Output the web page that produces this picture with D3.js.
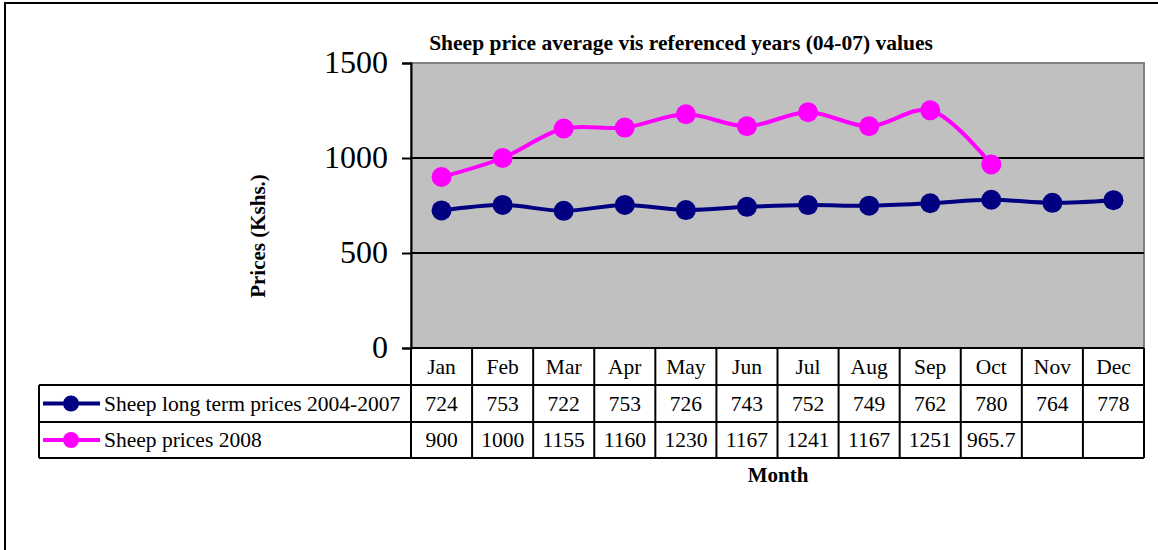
<!DOCTYPE html>
<html>
<head>
<meta charset="utf-8">
<script src="https://cdn.jsdelivr.net/npm/d3@7"></script>
<style>
  body { margin: 0; background: #fff; }
  svg { display: block; font-family: "Liberation Serif", "Times New Roman", serif; }
</style>
</head>
<body>
<div id="chart"></div>
<script>
const months = ["Jan", "Feb", "Mar", "Apr", "May", "Jun", "Jul", "Aug", "Sep", "Oct", "Nov", "Dec"];
const longTerm = [724, 753, 722, 753, 726, 743, 752, 749, 762, 780, 764, 778];
const prices2008 = [900, 1000, 1155, 1160, 1230, 1167, 1241, 1167, 1251, 965.7, null, null];
const yTicks = [0, 500, 1000, 1500];

const series = [
  { name: "Sheep long term prices 2004-2007", values: longTerm, color: "#000080" },
  { name: "Sheep prices 2008", values: prices2008, color: "#FF00FF" },
];

const width = 1158, height = 550;
const margin = { top: 63, right: 14, left: 411 };
const plotBottom = 348;
const rowH = [37, 37, 36];
const legendLeft = 39;

const svg = d3.select("#chart").append("svg")
  .attr("width", width)
  .attr("height", height);

// outer frame
svg.append("rect")
  .attr("x", 5).attr("y", 3)
  .attr("width", width + 20).attr("height", height + 20)
  .attr("fill", "none").attr("stroke", "#000").attr("stroke-width", 2);

const x = d3.scaleBand()
  .domain(months)
  .range([margin.left, width - margin.right]);

const y = d3.scaleLinear()
  .domain([0, 1500])
  .range([plotBottom, margin.top]);

// plot area
svg.append("rect")
  .attr("x", margin.left).attr("y", margin.top)
  .attr("width", width - margin.right - margin.left)
  .attr("height", plotBottom - margin.top)
  .attr("fill", "#C0C0C0")
  .attr("stroke", "#808080").attr("stroke-width", 2);

// gridlines
svg.append("g")
  .selectAll("line")
  .data(yTicks.filter(d => d > 0 && d < 1500))
  .join("line")
  .attr("x1", margin.left).attr("x2", width - margin.right)
  .attr("y1", d => y(d)).attr("y2", d => y(d))
  .attr("stroke", "#000").attr("stroke-width", 2);

// y axis
const yAxis = svg.append("g")
  .attr("transform", `translate(${margin.left},0)`)
  .call(d3.axisLeft(y).tickValues(yTicks).tickFormat(d3.format("d")).tickSize(9).tickPadding(14));
yAxis.select(".domain").attr("stroke", "#000").attr("stroke-width", 2);
yAxis.selectAll(".tick line").attr("stroke", "#000").attr("stroke-width", 2);
yAxis.selectAll(".tick text")
  .attr("font-family", "Liberation Serif, Times New Roman, serif")
  .attr("font-size", 32).attr("fill", "#000").attr("dy", "0.3em");

// lines
const line = d3.line()
  .defined(d => d != null)
  .x((d, i) => x(months[i]) + x.bandwidth() / 2)
  .y(d => y(d))
  .curve(d3.curveCatmullRom.alpha(0.5));

series.forEach(s => {
  svg.append("path")
    .datum(s.values)
    .attr("fill", "none")
    .attr("stroke", s.color)
    .attr("stroke-width", 4)
    .attr("d", line);
  svg.append("g")
    .selectAll("circle")
    .data(s.values.map((v, i) => ({ v, m: months[i] })).filter(d => d.v != null))
    .join("circle")
    .attr("cx", d => x(d.m) + x.bandwidth() / 2)
    .attr("cy", d => y(d.v))
    .attr("r", 10)
    .attr("fill", s.color);
});

// data table
const tableRight = width - margin.right;
const rowTops = [plotBottom, plotBottom + rowH[0], plotBottom + rowH[0] + rowH[1]];
const tableBottom = rowTops[2] + rowH[2];
const tg = svg.append("g").attr("stroke", "#000").attr("stroke-width", 2);

months.forEach(m => {
  tg.append("line")
    .attr("x1", x(m)).attr("x2", x(m))
    .attr("y1", plotBottom).attr("y2", tableBottom);
});
tg.append("line").attr("x1", tableRight).attr("x2", tableRight)
  .attr("y1", plotBottom).attr("y2", tableBottom);
tg.append("line").attr("x1", legendLeft).attr("x2", legendLeft)
  .attr("y1", rowTops[1]).attr("y2", tableBottom);
tg.append("line").attr("x1", margin.left).attr("x2", tableRight)
  .attr("y1", plotBottom).attr("y2", plotBottom);
[rowTops[1], rowTops[2], tableBottom].forEach(yy => {
  tg.append("line").attr("x1", legendLeft).attr("x2", tableRight)
    .attr("y1", yy).attr("y2", yy);
});

const cellFont = 21.5;
svg.append("g").selectAll("text")
  .data(months)
  .join("text")
  .attr("x", d => x(d) + x.bandwidth() / 2)
  .attr("y", rowTops[0] + rowH[0] / 2 + 7)
  .attr("text-anchor", "middle")
  .attr("font-size", cellFont)
  .text(d => d);

series.forEach((s, r) => {
  const top = rowTops[r + 1];
  const cy = top + rowH[r + 1] / 2;
  svg.append("g").selectAll("text")
    .data(s.values.map((v, i) => ({ v, m: months[i] })).filter(d => d.v != null))
    .join("text")
    .attr("x", d => x(d.m) + x.bandwidth() / 2)
    .attr("y", cy + 7)
    .attr("text-anchor", "middle")
    .attr("font-size", cellFont)
    .text(d => d.v);
  // legend key
  svg.append("line")
    .attr("x1", 43).attr("x2", 100)
    .attr("y1", cy).attr("y2", cy)
    .attr("stroke", s.color).attr("stroke-width", 4);
  svg.append("circle")
    .attr("cx", 71).attr("cy", cy).attr("r", 8)
    .attr("fill", s.color);
  svg.append("text")
    .attr("x", 104).attr("y", cy + 7)
    .attr("font-size", cellFont)
    .text(s.name);
});

// titles
svg.append("text")
  .attr("x", 681).attr("y", 50)
  .attr("text-anchor", "middle")
  .attr("font-size", 21.5).attr("font-weight", "bold")
  .text("Sheep price average vis referenced years (04-07) values");

svg.append("text")
  .attr("transform", "translate(265,236) rotate(-90)")
  .attr("text-anchor", "middle")
  .attr("font-size", 21).attr("font-weight", "bold")
  .text("Prices (Kshs.)");

svg.append("text")
  .attr("x", 778).attr("y", 482)
  .attr("text-anchor", "middle")
  .attr("font-size", 21).attr("font-weight", "bold")
  .text("Month");
</script>
</body>
</html>
